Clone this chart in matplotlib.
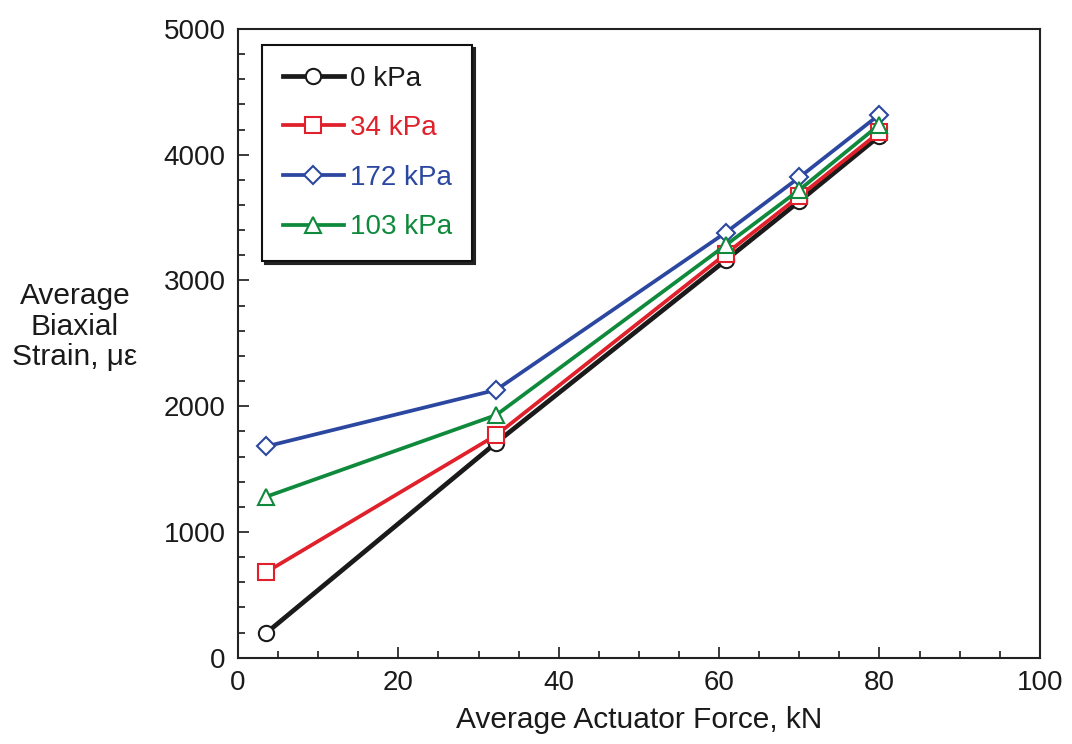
import matplotlib
matplotlib.use("Agg")
import matplotlib.pyplot as plt
from matplotlib.ticker import MultipleLocator

plt.rcParams['font.family'] = ['Liberation Sans', 'DejaVu Sans']

# Data
force_kN = [3.5, 32.2, 60.8, 70.0, 80.0]
strain_0kPa = [195, 1710, 3160, 3630, 4150]
strain_34kPa = [680, 1770, 3210, 3670, 4180]
strain_172kPa = [1680, 2130, 3380, 3820, 4320]
strain_103kPa = [1280, 1930, 3280, 3720, 4240]

series = [
    ("0 kPa", strain_0kPa, "#1a1a1a", "o", 3.4),
    ("34 kPa", strain_34kPa, "#e0202a", "s", 2.7),
    ("172 kPa", strain_172kPa, "#2b47a0", "D", 2.7),
    ("103 kPa", strain_103kPa, "#0f8a3c", "^", 2.7),
]

fig = plt.figure(figsize=(10.72, 7.44), dpi=100)
ax = fig.add_axes([0.222, 0.116, 0.748, 0.845])

for label, vals, color, marker, lw in series:
    ms = 9 if marker == "D" else 11
    ax.plot(force_kN, vals, color=color, lw=lw, marker=marker, ms=ms,
            markerfacecolor="white", markeredgecolor=color, markeredgewidth=1.5,
            label=label)

ax.set_xlim(0, 100)
ax.set_ylim(0, 5000)
ax.xaxis.set_major_locator(MultipleLocator(20))
ax.xaxis.set_minor_locator(MultipleLocator(5))
ax.yaxis.set_major_locator(MultipleLocator(1000))
ax.yaxis.set_minor_locator(MultipleLocator(200))
ax.tick_params(which="both", direction="in", top=False, right=False,
               labelsize=20, width=1.2, colors="#1a1a1a", pad=9)
ax.tick_params(which="major", length=8)
ax.tick_params(which="minor", length=5)
for sp in ax.spines.values():
    sp.set_linewidth(1.5)
    sp.set_color("#222222")

ax.set_xlabel("Average Actuator Force, kN", fontsize=21.5, color="#1a1a1a", labelpad=7)
fig.text(0.07, 0.561, "Average\nBiaxial\nStrain, \u03bc\u03b5", fontsize=21.5,
         ha="center", va="center", color="#1a1a1a", linespacing=1.12)

leg = ax.legend(loc="upper left", bbox_to_anchor=(0.03, 0.975), fontsize=20,
                frameon=True, fancybox=False, shadow={"color": "#222222", "alpha": 1.0},
                edgecolor="#111111", handlelength=2.2, labelspacing=0.85,
                borderpad=0.75, handletextpad=0.2, borderaxespad=0.0, framealpha=1.0)
leg.get_frame().set_linewidth(1.5)
for text, (_, _, color, _, _) in zip(leg.get_texts(), series):
    text.set_color(color)

fig.savefig("out.png", dpi=100)
